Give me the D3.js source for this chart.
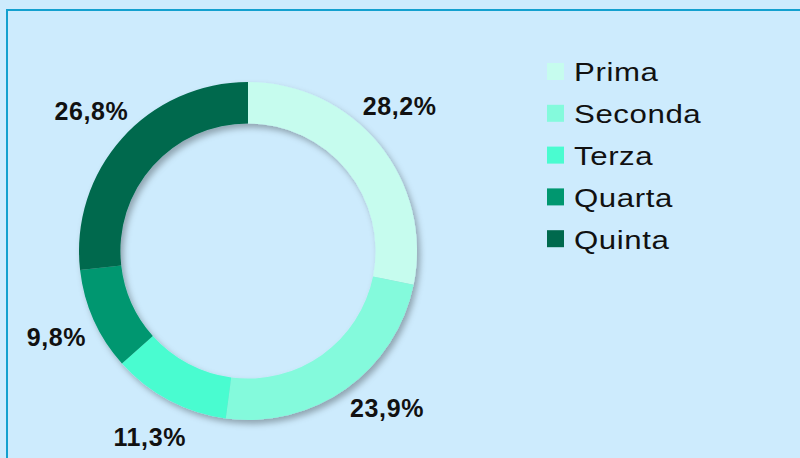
<!DOCTYPE html>
<html>
<head>
<meta charset="utf-8">
<script src="https://cdn.jsdelivr.net/npm/d3@7"></script>
<style>
  html, body { margin: 0; padding: 0; background: #cdebfd; overflow: hidden; }
  text { font-family: "Liberation Sans", Arial, sans-serif; }
</style>
</head>
<body>
<script>
// data
var categories = ["Prima", "Seconda", "Terza", "Quarta", "Quinta"];
var values = [28.2, 23.9, 11.3, 9.8, 26.8];
var labels = ["28,2%", "23,9%", "11,3%", "9,8%", "26,8%"];
var colors = ["#c6fcee", "#84fadc", "#4afcd0", "#00976f", "#00694d"];

var width = 800, height = 458;
var cx = 248, cy = 251, radius = 169;
// small angle nudges (degrees) so labels sit like the original layout
var nudge = [-4.5, -6, 0, 0, 0];

var svg = d3.select("body").append("svg")
  .attr("width", width)
  .attr("height", height);

// frame line
svg.append("rect")
  .attr("x", 7).attr("y", 10)
  .attr("width", width + 20).attr("height", height + 20)
  .attr("fill", "#cdebfd")
  .attr("stroke", "#13a0cf")
  .attr("stroke-width", 2);

var defs = svg.append("defs");
var f = defs.append("filter").attr("id", "shadow")
  .attr("x", "-20%").attr("y", "-20%").attr("width", "140%").attr("height", "140%");
f.append("feDropShadow")
  .attr("dx", 3).attr("dy", 4)
  .attr("stdDeviation", 3)
  .attr("flood-color", "#000")
  .attr("flood-opacity", 0.3);

var color = d3.scaleOrdinal().domain(categories).range(colors);

var pie = d3.pie().sort(null).value(function(d, i) { return values[i]; });

var arc = d3.arc()
  .outerRadius(radius)
  .innerRadius(radius * 0.755);

var labelR = radius + 41;

var g = svg.append("g")
  .attr("transform", "translate(" + cx + "," + cy + ")");

var slices = g.append("g").attr("filter", "url(#shadow)");
slices.selectAll("path")
  .data(pie(categories))
  .enter().append("path")
  .attr("d", arc)
  .attr("fill", function(d) { return color(d.data); });

g.selectAll(".lbl")
  .data(pie(categories))
  .enter().append("text")
  .attr("class", "lbl")
  .attr("transform", function(d, i) {
    var a = (d.startAngle + d.endAngle) / 2 + nudge[i] * Math.PI / 180;
    return "translate(" + (labelR * Math.sin(a)) + "," + (-labelR * Math.cos(a)) + ")";
  })
  .attr("text-anchor", "middle")
  .attr("dy", "0.36em")
  .style("font-size", "25px")
  .style("font-weight", "bold")
  .style("letter-spacing", "0.6px")
  .style("fill", "#111")
  .text(function(d, i) { return labels[i]; });

// legend
var legend = svg.append("g").attr("transform", "translate(547,72)");
var rows = legend.selectAll("g")
  .data(categories)
  .enter().append("g")
  .attr("transform", function(d, i) { return "translate(0," + (i * 41.8) + ")"; });

rows.append("rect")
  .attr("x", 0).attr("y", -9)
  .attr("width", 17).attr("height", 17)
  .attr("fill", function(d) { return color(d); });

rows.append("text")
  .attr("transform", "translate(27,0) scale(1.2,1)")
  .attr("dy", "0.36em")
  .style("font-size", "26px")
  .style("letter-spacing", "0.5px")
  .style("fill", "#111")
  .text(function(d) { return d; });
</script>
</body>
</html>
